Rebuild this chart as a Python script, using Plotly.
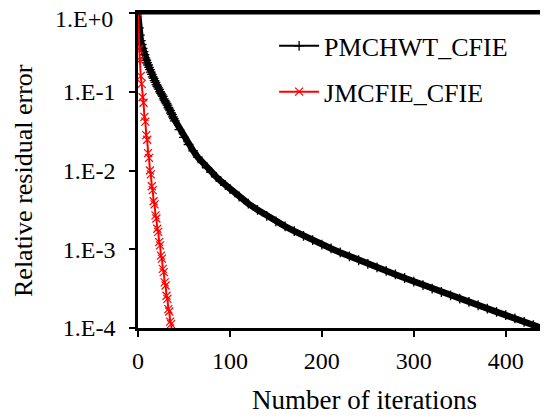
import plotly.graph_objects as go

# PMCHWT_CFIE: iteration numbers and log10 of relative residual error
pm_iter = list(range(0, 41)) + [45, 50, 55, 60, 65, 70, 75, 80, 85, 90, 95, 100,
           110, 120, 130, 140, 150, 160, 170, 180, 190, 200, 210, 220, 230, 240,
           250, 260, 270, 280, 290, 300, 310, 320, 330, 340, 350, 360, 370, 380,
           390, 400, 410, 420, 430, 440]
pm_log = [0.0, -0.19, -0.28, -0.35, -0.40, -0.45, -0.49, -0.53, -0.57, -0.60,
          -0.63, -0.66, -0.69, -0.72, -0.75, -0.78, -0.81, -0.83, -0.86, -0.88,
          -0.91, -0.93, -0.95, -0.97, -1.00, -1.02, -1.04, -1.06, -1.09, -1.11,
          -1.13, -1.15, -1.17, -1.20, -1.22, -1.24, -1.27, -1.29, -1.32, -1.34,
          -1.37,
          -1.48, -1.58, -1.67, -1.75, -1.83, -1.90, -1.965, -2.025, -2.08, -2.135,
          -2.185, -2.235,
          -2.33, -2.42, -2.50, -2.575, -2.645, -2.71, -2.77, -2.83, -2.885, -2.94,
          -2.99, -3.04, -3.09, -3.14, -3.185, -3.23, -3.275, -3.32, -3.365, -3.41,
          -3.455, -3.50, -3.543, -3.585, -3.627, -3.669, -3.711, -3.753, -3.795, -3.837,
          -3.879, -3.921, -3.963, -4.005]

# JMCFIE_CFIE
jm_iter = list(range(0, 38))
jm_log = [0.0, -0.46, -0.60, -0.80, -0.90, -1.07, -1.14, -1.32, -1.38, -1.55,
          -1.61, -1.78, -1.84, -2.00, -2.05, -2.20, -2.25, -2.39, -2.43, -2.57,
          -2.61, -2.74, -2.78, -2.91, -2.95, -3.08, -3.12, -3.25, -3.29, -3.42,
          -3.46, -3.59, -3.63, -3.76, -3.79, -3.92, -3.95, -4.06]

y_tickvals = [1, 0.1, 0.01, 0.001, 0.0001]
y_ticktext = ["1.E+0", "1.E-1", "1.E-2", "1.E-3", "1.E-4"]
x_tickvals = [0, 100, 200, 300, 400]

pm_val = [10 ** v for v in pm_log]
jm_val = [10 ** v for v in jm_log]

FONT = "Liberation Serif, Times New Roman, serif"

fig = go.Figure()
fig.add_trace(go.Scatter(x=pm_iter, y=pm_val, mode="lines",
                         line=dict(color="black", width=6.5), showlegend=False,
                         hoverinfo="skip"))
fig.add_trace(go.Scatter(x=pm_iter, y=pm_val, mode="lines+markers", name="PMCHWT_CFIE",
                         legendgroup="a",
                         line=dict(color="black", width=2),
                         marker=dict(symbol="cross-thin", size=7,
                                     line=dict(color="black", width=1.3))))
fig.add_trace(go.Scatter(x=jm_iter, y=jm_val, mode="lines+markers", name="JMCFIE_CFIE",
                         legendgroup="b",
                         line=dict(color="#FF0000", width=2),
                         marker=dict(symbol="x-thin", size=8,
                                     line=dict(color="#FF0000", width=1.2))))

# the top tick label sits a little below its tick (as in the reference) so it
# is not clipped at the top of the page; the others come from the axis itself
axis_ticktext = [""] + y_ticktext[1:]

# page body has an 8px margin, so the figure is 540x410 and offset by 8px
fig.update_layout(
    width=540, height=410,
    margin=dict(l=130, r=0, t=5, b=90),
    paper_bgcolor="white", plot_bgcolor="white",
    font=dict(family=FONT, size=24, color="black"),
    showlegend=True,
    legend=dict(x=0.332, y=0.97, xanchor="left", yanchor="top",
                bgcolor="rgba(0,0,0,0)", font=dict(size=26, family=FONT),
                traceorder="grouped", tracegroupgap=9, itemwidth=40),
    annotations=[
        dict(text="Number of iterations", x=(364 - 138) / 410, y=(328 - 400) / 315,
             xref="paper", yref="paper", xanchor="center", yanchor="middle",
             showarrow=False, font=dict(size=27, family=FONT)),
        dict(text="Relative residual error", x=(23 - 138) / 410, y=(328 - 180) / 315,
             xref="paper", yref="paper", xanchor="center", yanchor="middle",
             textangle=-90, showarrow=False, font=dict(size=26, family=FONT)),
        dict(text=y_ticktext[0], x=(115 - 138) / 410, y=1.0, yshift=-6,
             xref="paper", yref="paper", xanchor="right", yanchor="middle",
             showarrow=False, font=dict(size=24, family=FONT)),
    ],
    shapes=[
        dict(type="line", xref="paper", yref="paper", x0=0, x1=1, y0=1, y1=1,
             line=dict(color="black", width=3)),
    ],
)

fig.update_xaxes(range=[0, 446], tickvals=x_tickvals, ticks="outside", ticklen=6,
                 tickwidth=1.5, tickcolor="black", automargin=False,
                 showline=True, linecolor="black", linewidth=2.5, mirror=True,
                 showgrid=False, zeroline=False, ticklabelstandoff=3,
                 ticklabeloverflow="allow",
                 tickfont=dict(size=24, family=FONT))
fig.update_yaxes(type="log", range=[-4, 0], tickvals=y_tickvals, ticktext=axis_ticktext,
                 ticks="outside", ticklen=6, tickwidth=1.5, tickcolor="black",
                 automargin=False,
                 showline=True, linecolor="black", linewidth=2.5,
                 showgrid=False, zeroline=False, ticklabelstandoff=9,
                 ticklabeloverflow="allow",
                 tickfont=dict(size=24, family=FONT))

fig.write_html("out.html")
